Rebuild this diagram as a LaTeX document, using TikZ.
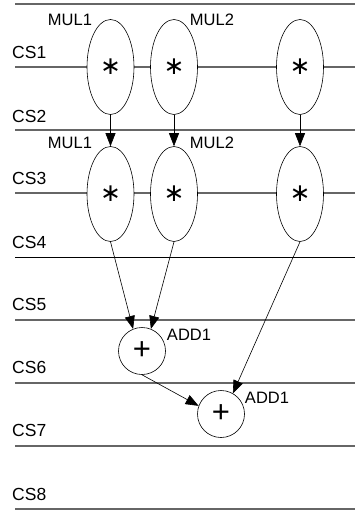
\documentclass[tikz,border=0pt]{standalone}
\usepackage{fontspec}
\setmainfont{Liberation Sans}
\newfontfamily\symfont{DejaVu Sans}
\usetikzlibrary{arrows.meta,shapes.geometric}
\begin{document}
\begin{tikzpicture}[x=1pt,y=-1pt,
  step line/.style={draw=black!60,line width=1.1pt},
  step label/.style={anchor=west,font=\fontsize{17.5}{17.5}\selectfont,inner sep=0pt},
  mulop/.style={draw,ellipse,line width=0.6pt,minimum width=47pt,minimum height=95pt,inner sep=0pt,font=\symfont\fontsize{25}{25}\selectfont,fill=white},
  addop/.style={draw,circle,line width=0.6pt,minimum size=47pt,inner sep=0pt,font=\fontsize{31}{31}\selectfont,fill=white},
  oplabel/.style={font=\fontsize{16.5}{16.5}\selectfont,inner sep=0pt},
  flow/.style={line width=0.6pt,-{Triangle[length=13pt,width=10pt]}}]
\useasboundingbox (0,0) rectangle (355,514);
% control step boundaries
\draw[step line] (15,4) -- (355,4);
\foreach \i/\y in {1/67,2/130,3/193,5/320,6/383,7/446,8/509}
  \draw[step line] (15,\y) coordinate (l\i) -- (355,\y);
\draw[line width=0.8pt] (15,257) -- (355,257);
% control step names
\foreach \i/\y in {1/52,2/116,3/178,4/242,5/304,6/367,7/430,8/494}
  \node[step label] (cs\i) at (12,\y) {CS\i};
% multiplications
\node[mulop] (m11) at (110.5,67) {\raisebox{-0.5ex}{∗}};
\node[mulop] (m12) at (174,67) {\raisebox{-0.5ex}{∗}};
\node[mulop] (m13) at (300,67) {\raisebox{-0.5ex}{∗}};
\node[mulop] (m21) at (110.5,194) {\raisebox{-0.5ex}{∗}};
\node[mulop] (m22) at (174,194) {\raisebox{-0.5ex}{∗}};
\node[mulop] (m23) at (300,194) {\raisebox{-0.5ex}{∗}};
% additions
\node[addop] (a1) at (142,351) {+};
\node[addop] (a2) at (221,414) {+};
% operator names
\node[oplabel] (t11) at (70,20) {MUL1};
\node[oplabel] (t12) at (212,20) {MUL2};
\node[oplabel] (t21) at (70,143) {MUL1};
\node[oplabel] (t22) at (212,143) {MUL2};
\node[oplabel] (t31) at (189,335) {ADD1};
\node[oplabel] (t32) at (267,398) {ADD1};
% data flow
\draw[flow] (m11.south) -- (m21.north);
\draw[flow] (m12.south) -- (m22.north);
\draw[flow] (m13.south) -- (m23.north);
\draw[flow] (m21.south) -- (a1.112);
\draw[flow] (m22.south) -- (a1.68);
\draw[flow] (m23.south) -- (a2.60);
\draw[flow] (a1.south) -- (a2.160);
\end{tikzpicture}
\end{document}
